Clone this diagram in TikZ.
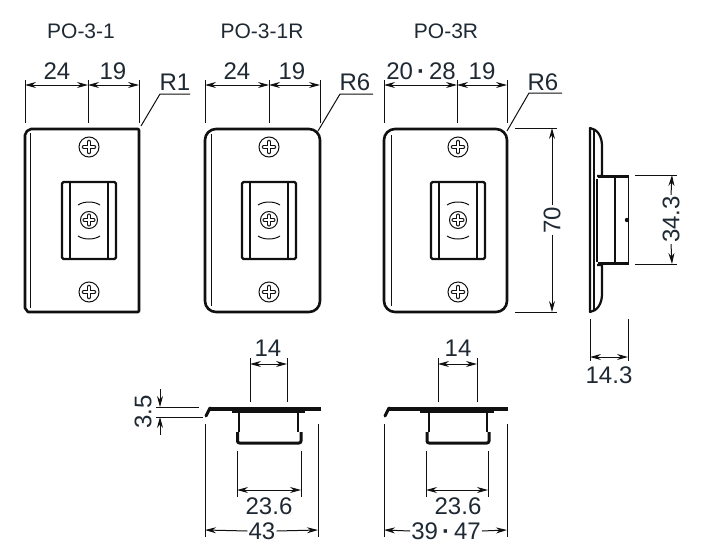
\documentclass[tikz,border=0pt]{standalone}
\usepackage{fontspec}
\setmainfont{Liberation Sans}
\usetikzlibrary{arrows.meta}
\definecolor{ink}{HTML}{101010}
\definecolor{txt}{HTML}{1F2933}
\tikzset{
  x=1pt,y=-1pt,
  thin line/.style={line width=1pt,draw=ink},
  outline/.style={line width=2.6pt,draw=ink,line join=round},
  medline/.style={line width=1.8pt,draw=ink},
  dimarrow/.style={line width=1pt,draw=ink,{Stealth[length=11pt,width=6pt]}-{Stealth[length=11pt,width=6pt]}},
  onearrow/.style={line width=1pt,draw=ink,-{Stealth[length=11pt,width=6pt]}},
  lab/.style={font=\fontsize{24}{26}\selectfont,text=txt,inner sep=1pt},
  title/.style={font=\fontsize{21}{23}\selectfont,text=txt,inner sep=1pt},
  pics/screw/.style={code={
    \draw[line width=1pt,draw=ink] (0,0) circle[radius=#1];
    \draw[line width=4.6pt,draw=ink,line cap=round] ({-0.5*#1},0)--({0.5*#1},0) (0,{-0.5*#1})--(0,{0.5*#1});
    \draw[line width=2.8pt,draw=white,line cap=round] ({-0.5*#1},0)--({0.5*#1},0) (0,{-0.5*#1})--(0,{0.5*#1});
  }}
}
% front-view bracket: #1 = centre x
\newcommand{\bracketfront}[1]{
  \begin{scope}[shift={(#1,0)}]
    \draw[line width=2.3pt,draw=ink,line join=round,rounded corners=1.5pt] (-27,182) rectangle (27,259);
    \draw[line width=2pt,draw=ink] (-19,182)--(-19,259) (19,182)--(19,259);
    \pic at (0,147) {screw=10};
    \pic at (0,292) {screw=10};
    \pic at (0,220) {screw=8.5};
    \draw[line width=1pt,draw=ink] (-11,205) .. controls (-5,201) and (5,201) .. (11,205);
    \draw[line width=1pt,draw=ink] (-11,236) .. controls (-5,240) and (5,240) .. (11,236);
  \end{scope}
}
\begin{document}
\begin{tikzpicture}
\useasboundingbox (0,0) rectangle (704,557);
\fill[white] (0,0) rectangle (704,557);

% titles
\node[title] (t1) at (81,31) {PO-3-1};
\node[title] (t2) at (262,31) {PO-3-1R};
\node[title] (t3) at (446,31) {PO-3R};

% plate 1
\draw[outline] (139,130) -- (139,311) -- (138,312) -- (31,312) -- (28,312) -- (25,308) -- (25,135) -- (27,131) -- (31,129) -- (138,129) -- cycle;
\draw[thin line] (30,133)--(30,308);
\bracketfront{89}
% plate 2
\draw[outline,rounded corners=11pt] (205,129) rectangle (320,312);
\draw[thin line] (211,134)--(211,306);
\bracketfront{269}
% plate 3
\draw[outline,rounded corners=11pt] (384,129) rectangle (507,312);
\draw[thin line] (391,135)--(391,306);
\bracketfront{458}

% dims over plate 1
\draw[thin line] (25,80)--(25,123) (88,80)--(88,123) (139,80)--(139,123);
\draw[dimarrow] (25,85)--(88,85);
\draw[dimarrow] (88,85)--(139,85);
\node[lab] (d24a) at (57,71) {24};
\node[lab] (d19a) at (113,71) {19};
\draw[thin line] (141,126)--(160,94)--(190,94);
\node[lab] (r1) at (175,82) {R1};

% dims over plate 2
\draw[thin line] (205,80)--(205,123) (269,80)--(269,123) (320,80)--(320,123);
\draw[dimarrow] (205,85)--(269,85);
\draw[dimarrow] (269,85)--(320,85);
\node[lab] (d24b) at (237,71) {24};
\node[lab] (d19b) at (292,71) {19};
\draw[thin line] (318,131)--(340,94)--(373,94);
\node[lab] (r6a) at (355,82) {R6};

% dims over plate 3
\draw[thin line] (384,80)--(384,123) (457,80)--(457,123) (507,80)--(507,123);
\draw[dimarrow] (384,85)--(457,85);
\draw[dimarrow] (457,85)--(507,85);
\node[lab] (d2028) at (421,71) {20\,{\fontspec{Liberation Sans Bold}·}\,28};
\node[lab] (d19c) at (482,71) {19};
\draw[thin line] (507,131)--(529,93)--(562,93);
\node[lab] (r6b) at (543,82) {R6};

% 70
\draw[thin line] (515,128)--(557,128) (515,312)--(557,312);
\node[lab,rotate=90] (d70) at (552,220) {70};
\draw[onearrow] (d70.east)--(552,128);
\draw[onearrow] (d70.west)--(552,312);

% side view
\draw[line width=2.2pt,draw=ink,line join=round] (597,176) -- (602,176) -- (602,146) .. controls (602,136) and (597,129) .. (590,128) -- (590,312) .. controls (597,311) and (602,304) .. (602,294) -- (602,265) -- (597,265);
\draw[line width=1.2pt,draw=ink] (594,130)--(594,310);
\draw[line width=3.6pt,draw=ink] (598,176.5)--(629,176.5) (598,263.5)--(629,263.5);
\draw[line width=1.8pt,draw=ink] (628.5,175)--(628.5,265);
\draw[line width=1.2pt,draw=ink] (597,179)--(597,262);
\draw[line width=1.6pt,draw=ink] (615,178)--(615,262);
\fill[ink] (627,220) circle[radius=2.2];
% 34.3
\draw[thin line] (635,175)--(677,175) (635,264)--(677,264);
\node[lab,rotate=90] (d343) at (671,219.5) {34.3};
\draw[onearrow] (d343.east)--(672,175);
\draw[onearrow] (d343.west)--(672,264);
% 14.3
\draw[thin line] (590,319)--(590,361) (628,319)--(628,361);
\draw[dimarrow] (590,357)--(628,357);
\node[lab] (d143) at (609,375) {14.3};

% bottom view 1
\draw[line width=4.2pt,draw=ink,line join=round] (321,409)--(210,409);
\draw[line width=3pt,draw=ink,line cap=round,line join=round] (210,408)--(206,416);
\draw[line width=2.6pt,draw=ink] (232,412)--(305,412);
\draw[medline] (239,412)--(239,432) (298,412)--(298,432);
\draw[line width=3pt,draw=ink,line join=round,rounded corners=2pt] (237.5,432)--(237.5,443)--(301,443)--(301,432);
% dims
\draw[thin line] (250,358)--(250,402) (287,358)--(287,402);
\draw[dimarrow] (250,364)--(287,364);
\node[lab] (d14a) at (268,348) {14};
\draw[thin line] (156,407)--(199,407) (156,417)--(203,417);
\coordinate (a1) at (160,389); \coordinate (a2) at (160,407);
\coordinate (a3) at (160,435); \coordinate (a4) at (160,417);
\draw[onearrow] (a1)--(a2);
\draw[onearrow] (a3)--(a4);
\node[lab,rotate=90] (d35) at (143,412) {3.5};
\draw[thin line] (205,424)--(205,537) (318,424)--(318,537);
\draw[thin line] (237,451)--(237,497) (301,451)--(301,497);
\draw[dimarrow] (237,490)--(301,490);
\node[lab] (d236a) at (269,506) {23.6};
\node[lab] (d43) at (262,531) {43};
\draw[onearrow] (d43.west)--(205,530);
\draw[onearrow] (d43.east)--(318,530);

% bottom view 2
\draw[line width=4.2pt,draw=ink,line join=round] (508,409)--(389,409);
\draw[line width=3pt,draw=ink,line cap=round,line join=round] (389,408)--(385,416);
\draw[line width=2.6pt,draw=ink] (420,412)--(494,412);
\draw[medline] (429,412)--(429,432) (487,412)--(487,432);
\draw[line width=3pt,draw=ink,line join=round,rounded corners=2pt] (427,432)--(427,443)--(489,443)--(489,432);
% dims
\draw[thin line] (438,358)--(438,402) (477,358)--(477,402);
\draw[dimarrow] (438,364)--(477,364);
\node[lab] (d14b) at (458,348) {14};
\draw[thin line] (384,424)--(384,537) (507,424)--(507,537);
\draw[thin line] (426,451)--(426,497) (488,451)--(488,497);
\draw[dimarrow] (426,490)--(488,490);
\node[lab] (d236b) at (458,506) {23.6};
\node[lab] (d3947) at (446,531) {39\,{\fontspec{Liberation Sans Bold}·}\,47};
\draw[onearrow] (d3947.west)--(384,530);
\draw[onearrow] (d3947.east)--(507,530);
\end{tikzpicture}
\end{document}
